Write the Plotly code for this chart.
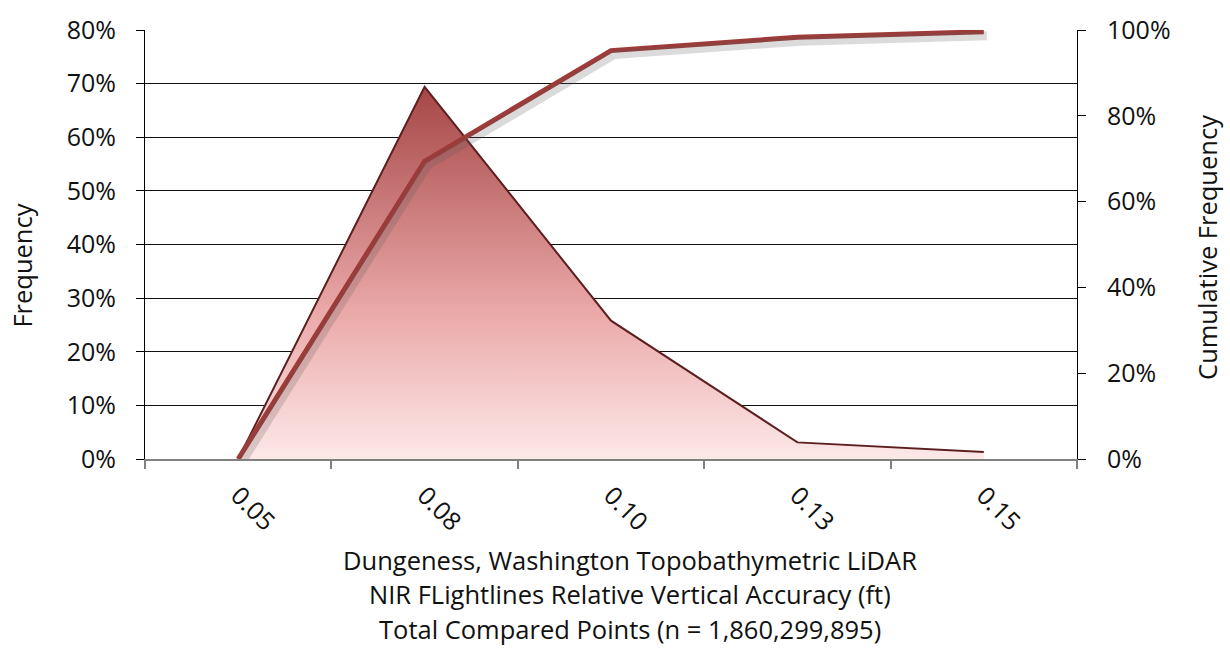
import plotly.graph_objects as go

# Relative vertical accuracy histogram (ft) with cumulative frequency
categories = ["0.05", "0.08", "0.10", "0.13", "0.15"]
frequency = [0.0, 69.4, 25.8, 3.1, 1.3]          # percent of points
cumulative = [0.0, 69.4, 95.2, 98.3, 99.6]       # percent, right axis

left_ticks = [0, 10, 20, 30, 40, 50, 60, 70, 80]
right_ticks = [0, 20, 40, 60, 80, 100]

FONT = "Open Sans"
TXT = "#111111"
FS_TICK = 25
FS_TITLE = 25.5

# plot area geometry in pixels
W, H = 1230, 650
L, R, T, B = 145, 153, 22, 191
PW = W - L - R
PH = H - T - B

# small pixel offset used for the drop shadow layer
sx = 3 * 5.0 / PW
sy_right = 4 * 100.0 / PH

fig = go.Figure()

# frequency area with vertical gradient
fig.add_trace(go.Scatter(
    x=categories, y=frequency, mode="lines", fill="tozeroy",
    fillgradient=dict(type="vertical",
                      colorscale=[[0.0, "#fde8e8"], [0.4, "#eaa8a8"], [1.0, "#a64646"]]),
    line=dict(color="#5c1f1f", width=2),
    hoverinfo="x+y", showlegend=False,
))

# shadow of the cumulative line (drawn on offset axes)
fig.add_trace(go.Scatter(
    x=categories, y=cumulative, mode="lines",
    line=dict(color="rgba(90,90,90,0.22)", width=9),
    xaxis="x3", yaxis="y3", hoverinfo="skip", showlegend=False,
))

# cumulative frequency line
fig.add_trace(go.Scatter(
    x=categories, y=cumulative, mode="lines",
    line=dict(color="#9e3a38", width=5),
    yaxis="y2", hoverinfo="x+y", showlegend=False,
))

fig.update_layout(
    width=W, height=H,
    margin=dict(l=L, r=R, t=T, b=B),
    paper_bgcolor="white", plot_bgcolor="white",
    font=dict(family=FONT, size=FS_TICK, color=TXT),
    xaxis=dict(
        type="category", range=[-0.5, 4.5], tickson="boundaries",
        ticks="outside", ticklen=8, tickcolor="#808080", tickwidth=1.5,
        showline=True, linecolor="#808080", linewidth=2,
        showgrid=False, tickangle=45, zeroline=False,
        ticklabelstandoff=10,
        tickfont=dict(family=FONT, size=FS_TICK, color=TXT),
    ),
    yaxis=dict(
        range=[0, 80], tickvals=left_ticks,
        ticktext=[f"{v}%" for v in left_ticks],
        ticks="outside", ticklen=8, tickcolor="#000", tickwidth=1,
        showline=True, linecolor="#000", linewidth=1,
        showgrid=True, gridcolor="#111111", gridwidth=1.2,
        zeroline=False, ticklabelstandoff=15,
        tickfont=dict(family=FONT, size=FS_TICK, color=TXT),
    ),
    yaxis2=dict(
        range=[0, 100], tickvals=right_ticks,
        ticktext=[f"{v}%" for v in right_ticks],
        overlaying="y", side="right",
        ticks="outside", ticklen=8, tickcolor="#000", tickwidth=1,
        showline=True, linecolor="#000", linewidth=1,
        showgrid=False, zeroline=False, ticklabelstandoff=16,
        tickfont=dict(family=FONT, size=FS_TICK, color=TXT),
    ),
    xaxis3=dict(type="category", range=[-0.5 - sx, 4.5 - sx], overlaying="x",
                visible=False, showgrid=False),
    yaxis3=dict(range=[0 + sy_right, 100 + sy_right], overlaying="y",
                visible=False, showgrid=False),
)

def paper_x(px):
    return (px - L) / PW

def paper_y(py):
    return (H - B - py) / PH

title_lines = [
    "Dungeness, Washington Topobathymetric LiDAR",
    "NIR FLightlines Relative Vertical Accuracy (ft)",
    "Total Compared Points (n = 1,860,299,895)",
]
for line, py in zip(title_lines, [562, 597, 632]):
    fig.add_annotation(text=line, xref="paper", yref="paper",
                       x=paper_x(630), y=paper_y(py), showarrow=False,
                       xanchor="center", yanchor="middle",
                       font=dict(family=FONT, size=FS_TITLE, color=TXT))

fig.add_annotation(text="Frequency", xref="paper", yref="paper",
                   x=paper_x(22), y=paper_y(262), textangle=-90, showarrow=False,
                   xanchor="center", yanchor="middle",
                   font=dict(family=FONT, size=FS_TITLE, color=TXT))
fig.add_annotation(text="Cumulative Frequency", xref="paper", yref="paper",
                   x=paper_x(1207), y=paper_y(244), textangle=-90, showarrow=False,
                   xanchor="center", yanchor="middle",
                   font=dict(family=FONT, size=FS_TITLE, color=TXT))

fig.write_html("out.html")
